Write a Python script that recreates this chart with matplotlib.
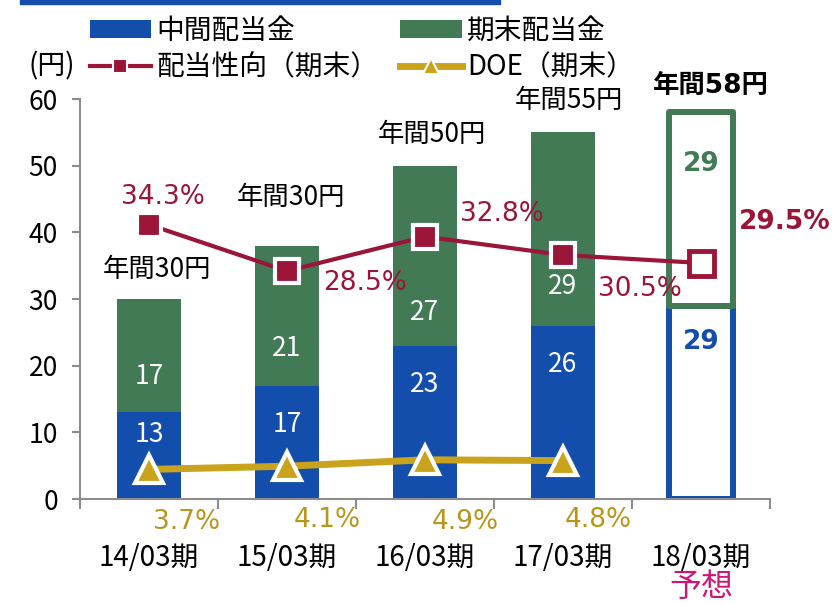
import matplotlib
matplotlib.use("Agg")
import matplotlib.pyplot as plt
from matplotlib.lines import Line2D
from matplotlib.patches import Patch, Rectangle
import numpy as np

plt.rcParams['font.family'] = ['Noto Sans CJK JP', 'DejaVu Sans']

# ---------------- data ----------------
categories = ["14/03期", "15/03期", "16/03期", "17/03期", "18/03期"]
interim = [13, 17, 23, 26, 29]          # 中間配当金
year_end = [17, 21, 27, 29, 29]         # 期末配当金
total_labels = ["年間30円", "年間30円", "年間50円", "年間55円", "年間58円"]
payout = [34.3, 28.5, 32.8, 30.5, 29.5]  # 配当性向（期末） %
doe = [3.7, 4.1, 4.9, 4.8]               # DOE（期末） %
forecast_note = "予想"

# ---------------- styles / layout ----------------
BLUE = "#134EAD"
GREEN = "#437A56"
RED = "#9B1538"
GOLD = "#C9A31C"
GOLD_TXT = "#B8961E"
MAGENTA = "#D0157A"
GRAY = "#8C8C8C"

FS = 19
n = len(categories)
x = np.arange(n)
bw = 0.47

fig = plt.figure(figsize=(8.35, 6.03), dpi=100)
W, H = 835, 603
ax = fig.add_axes([80 / W, 1 - 499 / H, 690 / W, 400 / H])
ax.set_xlim(-0.5, n - 0.5)
ax.set_ylim(0, 60)

# header line
fig.patches.append(Rectangle((20 / W, 1 - 4 / H), 480 / W, 4 / H,
                             transform=fig.transFigure, color=BLUE, zorder=5))

# actual bars (first 4)
act = slice(0, n - 1)
ax.bar(x[act], interim[act], bw, color=BLUE, zorder=2)
ax.bar(x[act], year_end[act], bw, bottom=interim[act], color=GREEN, zorder=2)
# forecast bar (outlined)
ax.bar(x[-1], interim[-1], bw, facecolor="white", edgecolor=BLUE,
       linewidth=4.3, zorder=2, joinstyle="round")
ax.bar(x[-1], year_end[-1], bw, bottom=interim[-1], facecolor="white",
       edgecolor=GREEN, linewidth=4.3, zorder=3, joinstyle="round")

# bar value labels
int_off = [3.4, 5.9, 5.9, 5.9, 5.5]
end_off = [5.3, 5.5, 5.0, 5.9, 21.2]
for i in range(n):
    if i < n - 1:
        ax.text(x[i], interim[i] - int_off[i], str(interim[i]), ha="center",
                va="center", color="white", fontsize=FS, zorder=4)
        ax.text(x[i], interim[i] + end_off[i], str(year_end[i]), ha="center",
                va="center", color="white", fontsize=FS, zorder=4)
    else:
        ax.text(x[i], interim[i] - int_off[i], str(interim[i]), ha="center",
                va="center", color=BLUE, fontsize=FS, fontweight="bold",
                family=["DejaVu Sans"], zorder=4)
        ax.text(x[i], interim[i] + end_off[i], str(year_end[i]), ha="center",
                va="center", color=GREEN, fontsize=FS, fontweight="bold",
                family=["DejaVu Sans"], zorder=4)

# total labels
tot_dx = [0.06, 0.03, 0.05, 0.04, 0.07]
tot_dy = [4.4, 7.3, 4.7, 4.8, 3.9]
for i in range(n):
    tot = interim[i] + year_end[i]
    if i < n - 1:
        ax.text(x[i] + tot_dx[i], tot + tot_dy[i], total_labels[i], ha="center",
                va="center", fontsize=FS, color="black", zorder=4)
    else:
        ax.text(x[i] + tot_dx[i], tot + tot_dy[i], total_labels[i], ha="center",
                va="center", fontsize=FS, color="black", fontweight="bold",
                family=["DejaVu Sans", "Noto Sans CJK JP"], zorder=4)

# axes styling
for s in ["top", "right"]:
    ax.spines[s].set_visible(False)
for s in ["left", "bottom"]:
    ax.spines[s].set_color(GRAY)
    ax.spines[s].set_linewidth(1.5)
ax.set_yticks(np.arange(0, 61, 10))
ax.tick_params(axis="y", length=6, width=1.5, color=GRAY, labelsize=FS, pad=10)
ax.set_xticks(x)
ax.set_xticklabels(categories, fontsize=20)
ax.tick_params(axis="x", which="major", length=0, pad=32)
ax.set_xticks(np.arange(-0.5, n, 1), minor=True)
ax.tick_params(axis="x", which="minor", length=7, width=1.5, color=GRAY)

ax.text(x[-1], -0.22, forecast_note, transform=ax.get_xaxis_transform(),
        ha="center", va="center", fontsize=23, color=MAGENTA)
fig.text(52 / W, 1 - 66 / H, "(円)", ha="center", va="center", fontsize=20)

# secondary axis for percentages
ax2 = ax.twinx()
ax2.set_ylim(0, 50)
ax2.axis("off")

ax2.plot(x, payout, color=RED, lw=3, zorder=3, solid_capstyle="butt")
ax2.plot(x[:-1], payout[:-1], ls="none", marker="s", ms=17, mfc=RED,
         mec="white", mew=3, zorder=4)
ax2.plot(x[-1:], payout[-1:], ls="none", marker="s", ms=18, mfc="white",
         mec=RED, mew=3.5, zorder=4)

ax2.plot(x[:len(doe)], doe, color=GOLD, lw=5, zorder=3)
ax2.plot(x[:len(doe)], doe, ls="none", marker="^", ms=20, mfc=GOLD,
         mec="white", mew=3, zorder=4)

px2pt = 72 / 100
pay_off = [(14, 28), (78, -12), (77, 23), (77, -34), (84, 41)]
for i, v in enumerate(payout):
    dx, dy = pay_off[i]
    bold = (i == n - 1)
    ax2.annotate(f"{v}%", (x[i], v), xytext=(dx * px2pt, dy * px2pt),
                 textcoords="offset points", ha="center", va="center",
                 color=RED, fontsize=FS, family=["DejaVu Sans"],
                 fontweight="bold" if bold else "normal", zorder=5)

doe_off = [(38, -53), (40, -54), (40, -62), (35, -59)]
for i, v in enumerate(doe):
    dx, dy = doe_off[i]
    ax2.annotate(f"{v}%", (x[i], v), xytext=(dx * px2pt, dy * px2pt),
                 textcoords="offset points", ha="center", va="center",
                 color=GOLD_TXT, fontsize=FS, family=["DejaVu Sans"],
                 annotation_clip=False, zorder=5)

# legend
handles = [
    Patch(facecolor=BLUE, edgecolor="none"),
    Line2D([], [], color=RED, lw=3, marker="s", ms=10, mfc=RED, mec="white", mew=1.5),
    Patch(facecolor=GREEN, edgecolor="none"),
    Line2D([], [], color=GOLD, lw=5, marker="^", ms=11, mfc=GOLD, mec="white", mew=1.5),
]
labels = ["中間配当金", "配当性向（期末）", "期末配当金", "DOE（期末）"]
fig.legend(handles, labels, loc="upper left", bbox_to_anchor=(84 / W, 1 - 10 / H),
           ncol=2, frameon=False, fontsize=20, handlelength=2.2, handleheight=0.6,
           handletextpad=0.2, columnspacing=0.8, labelspacing=0.25,
           borderpad=0.2, borderaxespad=0)

fig.savefig("out.png", dpi=100)
